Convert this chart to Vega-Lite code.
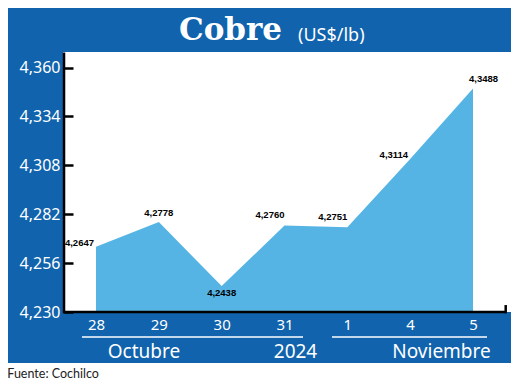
{
  "$schema": "https://vega.github.io/schema/vega-lite/v6.json",
  "width": 503,
  "height": 355,
  "autosize": {"type": "none"},
  "padding": {"left": 8, "top": 8, "right": 9, "bottom": 22},
  "background": "white",
  "view": {"fill": "#1063ac", "stroke": null},
  "config": {
    "locale": {"number": {"decimal": ",", "thousands": ".", "grouping": [3], "currency": ["", " $"]}},
    "text": {"font": "Noto Sans"}
  },
  "data": {
    "values": [
      {"i": 0, "dia": "28", "valor": 4.2647},
      {"i": 1, "dia": "29", "valor": 4.2778},
      {"i": 2, "dia": "30", "valor": 4.2438},
      {"i": 3, "dia": "31", "valor": 4.2760},
      {"i": 4, "dia": "1", "valor": 4.2751},
      {"i": 5, "dia": "4", "valor": 4.3114},
      {"i": 6, "dia": "5", "valor": 4.3488}
    ]
  },
  "layer": [
    {
      "data": {"values": [{}]},
      "mark": {"type": "rect", "color": "white"},
      "encoding": {
        "x": {
          "datum": -0.5252, "type": "quantitative",
          "scale": {"domain": [-1.40054, 6.60481], "nice": false, "zero": false},
          "axis": {
            "values": [0, 1, 2, 3, 4, 5, 6],
            "labelExpr": "['28','29','30','31','1','4','5'][datum.value]",
            "title": null, "domain": false, "ticks": false, "grid": false,
            "labelColor": "white", "labelFont": "Noto Sans", "labelFontSize": 15,
            "labelPadding": 5, "offset": -51, "zindex": 1, "labelFlush": false, "labelOverlap": false
          }
        },
        "x2": {"datum": 6.7},
        "y": {
          "datum": 4.23, "type": "quantitative",
          "scale": {"domain": [4.202884, 4.391636], "nice": false, "zero": false},
          "axis": {
            "values": [4.23, 4.256, 4.282, 4.308, 4.334, 4.36],
            "format": ".3f",
            "title": null, "domain": false, "grid": false, "ticks": true,
            "tickColor": "black", "tickSize": -9, "tickWidth": 2.5,
            "labelColor": "white", "labelFont": "Noto Sans", "labelFontSize": 16,
            "labelPadding": 13, "offset": -56, "zindex": 1, "labelFlush": false, "labelOverlap": false
          }
        },
        "y2": {"datum": 4.36824}
      }
    },
    {
      "mark": {"type": "area", "color": "#56b4e4", "opacity": 1},
      "encoding": {
        "x": {"field": "i", "type": "quantitative", "title": null},
        "y": {"field": "valor", "type": "quantitative", "title": null},
        "y2": {"datum": 4.23}
      }
    },
    {
      "data": {"values": [{}]},
      "mark": {"type": "rule", "color": "black", "strokeWidth": 2.5},
      "encoding": {
        "x": {"datum": -0.509, "type": "quantitative"},
        "y": {"datum": 4.2293, "type": "quantitative"},
        "y2": {"datum": 4.368}
      }
    },
    {
      "data": {"values": [{}]},
      "mark": {"type": "rule", "color": "black", "strokeWidth": 2.5},
      "encoding": {
        "x": {"datum": -0.525, "type": "quantitative"},
        "x2": {"datum": 6.5205},
        "y": {"datum": 4.23, "type": "quantitative"}
      }
    },
    {
      "data": {"values": [{}]},
      "mark": {"type": "rule", "color": "black", "strokeWidth": 2.5},
      "encoding": {
        "x": {"datum": 6.5205, "type": "quantitative"},
        "y": {"datum": 4.2293, "type": "quantitative"},
        "y2": {"datum": 4.2337}
      }
    },
    {
      "data": {"values": [{}]},
      "mark": {"type": "rule", "color": "white", "strokeWidth": 1.5},
      "encoding": {
        "x": {"datum": -0.2228, "type": "quantitative"},
        "x2": {"datum": 3.2944},
        "y": {"datum": 4.216708, "type": "quantitative"}
      }
    },
    {
      "data": {"values": [{}]},
      "mark": {"type": "rule", "color": "white", "strokeWidth": 1.5},
      "encoding": {
        "x": {"datum": 3.756, "type": "quantitative"},
        "x2": {"datum": 6.2228},
        "y": {"datum": 4.216708, "type": "quantitative"}
      }
    },
    {
      "data": {"values": [{}]},
      "mark": {"type": "text", "color": "white", "font": "Noto Sans", "fontSize": 19, "align": "center", "baseline": "alphabetic", "text": "Octubre"},
      "encoding": {
        "x": {"datum": 0.764, "type": "quantitative"},
        "y": {"datum": 4.205542, "type": "quantitative"}
      }
    },
    {
      "data": {"values": [{}]},
      "mark": {"type": "text", "color": "white", "font": "Noto Sans", "fontSize": 19, "align": "center", "baseline": "alphabetic", "text": "2024"},
      "encoding": {
        "x": {"datum": 3.175, "type": "quantitative"},
        "y": {"datum": 4.205542, "type": "quantitative"}
      }
    },
    {
      "data": {"values": [{}]},
      "mark": {"type": "text", "color": "white", "font": "Noto Sans", "fontSize": 19, "align": "center", "baseline": "alphabetic", "text": "Noviembre"},
      "encoding": {
        "x": {"datum": 5.499, "type": "quantitative"},
        "y": {"datum": 4.205542, "type": "quantitative"}
      }
    },
    {
      "data": {"values": [{}]},
      "mark": {"type": "text", "color": "white", "font": "DejaVu Serif", "fontWeight": "bold", "fontSize": 31, "align": "left", "baseline": "alphabetic", "text": "Cobre"},
      "encoding": {
        "x": {"datum": 1.321, "type": "quantitative"},
        "y": {"datum": 4.374622, "type": "quantitative"}
      }
    },
    {
      "data": {"values": [{}]},
      "mark": {"type": "text", "color": "white", "font": "Noto Sans", "fontSize": 18, "align": "left", "baseline": "alphabetic", "text": "(US$/lb)"},
      "encoding": {
        "x": {"datum": 3.2148, "type": "quantitative"},
        "y": {"datum": 4.37409, "type": "quantitative"}
      }
    },
    {
      "data": {"values": [{}]},
      "mark": {"type": "text", "color": "#222222", "font": "Lato", "fontSize": 12.5, "align": "left", "baseline": "alphabetic", "text": "Fuente: Cochilco"},
      "encoding": {
        "x": {"datum": -1.4117, "type": "quantitative"},
        "y": {"datum": 4.195068, "type": "quantitative"}
      }
    },
    {
      "transform": [{"filter": "datum.i == 1"}],
      "mark": {"type": "text", "color": "black", "font": "Liberation Sans", "fontWeight": "bold", "fontSize": 9.5, "align": "center", "baseline": "bottom", "dy": -4},
      "encoding": {
        "x": {"field": "i", "type": "quantitative", "title": null},
        "y": {"field": "valor", "type": "quantitative", "title": null},
        "text": {"field": "valor", "type": "quantitative", "format": ".4f"}
      }
    },
    {
      "transform": [{"filter": "datum.i == 3 || datum.i == 4"}],
      "mark": {"type": "text", "color": "black", "font": "Liberation Sans", "fontWeight": "bold", "fontSize": 9.5, "align": "right", "baseline": "bottom", "dy": -5},
      "encoding": {
        "x": {"field": "i", "type": "quantitative", "title": null},
        "y": {"field": "valor", "type": "quantitative", "title": null},
        "text": {"field": "valor", "type": "quantitative", "format": ".4f"}
      }
    },
    {
      "transform": [{"filter": "datum.i == 0 || datum.i == 5"}],
      "mark": {"type": "text", "color": "black", "font": "Liberation Sans", "fontWeight": "bold", "fontSize": 9.5, "align": "right", "baseline": "middle", "dx": -2, "dy": -4},
      "encoding": {
        "x": {"field": "i", "type": "quantitative", "title": null},
        "y": {"field": "valor", "type": "quantitative", "title": null},
        "text": {"field": "valor", "type": "quantitative", "format": ".4f"}
      }
    },
    {
      "transform": [{"filter": "datum.i == 2"}],
      "mark": {"type": "text", "color": "black", "font": "Liberation Sans", "fontWeight": "bold", "fontSize": 9.5, "align": "center", "baseline": "top", "dy": 2},
      "encoding": {
        "x": {"field": "i", "type": "quantitative", "title": null},
        "y": {"field": "valor", "type": "quantitative", "title": null},
        "text": {"field": "valor", "type": "quantitative", "format": ".4f"}
      }
    },
    {
      "transform": [{"filter": "datum.i == 6"}],
      "mark": {"type": "text", "color": "black", "font": "Liberation Sans", "fontWeight": "bold", "fontSize": 9.5, "align": "left", "baseline": "bottom", "dx": -4, "dy": -5},
      "encoding": {
        "x": {"field": "i", "type": "quantitative", "title": null},
        "y": {"field": "valor", "type": "quantitative", "title": null},
        "text": {"field": "valor", "type": "quantitative", "format": ".4f"}
      }
    }
  ]
}
